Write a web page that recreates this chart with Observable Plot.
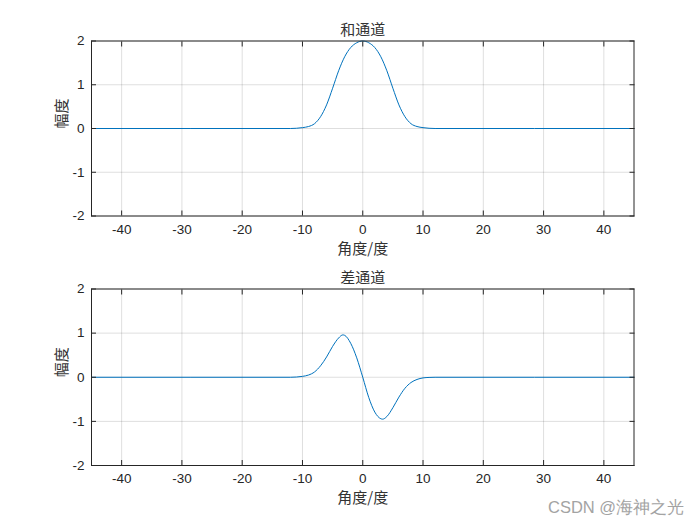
<!DOCTYPE html>
<html>
<head>
<meta charset="utf-8">
<script src="https://cdn.jsdelivr.net/npm/d3@7"></script>
<script src="https://cdn.jsdelivr.net/npm/@observablehq/plot@0.6"></script>
<style>
  html, body { margin: 0; padding: 0; background: #fff; }
  #wrap { position: relative; width: 700px; height: 525px; overflow: hidden; }
  #wrap svg { display: block; }
  #mark { position: absolute; left: 548px; top: 497px; font: 16.5px "Liberation Sans", Arial, sans-serif; color: #a3a3a3; white-space: nowrap; }
</style>
</head>
<body>
<div id="wrap"><div id="plots"></div><div id="mark">CSDN @海神之光</div></div>
<script>
const angleTicks = [-40, -30, -20, -10, 0, 10, 20, 30, 40];
const ampTicks = [-2, -1, 0, 1, 2];

const sumTitle = "和通道";
const diffTitle = "差通道";
const xLabel = "角度/度";
const yLabel = "幅度";

const sumAngle = [-45, -12, -11, -10, -9, -8, -7, -6, -5, -4, -3, -2, -1, 0, 1, 2, 3, 4, 5, 6, 7, 8, 9, 10, 11, 12, 45];
const sumAmp   = [0, 0, 0.005, 0.02, 0.045, 0.11, 0.27, 0.54, 0.92, 1.32, 1.64, 1.85, 1.96, 2.0, 1.96, 1.85, 1.64, 1.32, 0.92, 0.54, 0.27, 0.11, 0.045, 0.02, 0.005, 0, 0];

const diffAngle = [-45, -12, -11, -10, -9, -8, -7, -6, -5, -4, -3.3, -3, -2, -1, 0, 1, 2, 3, 3.3, 4, 5, 6, 7, 8, 9, 10, 11, 12, 45];
const diffAmp   = [0, 0, 0.005, 0.02, 0.05, 0.12, 0.26, 0.46, 0.70, 0.89, 0.96, 0.95, 0.77, 0.44, 0, -0.46, -0.79, -0.94, -0.95, -0.89, -0.69, -0.45, -0.25, -0.12, -0.05, -0.015, -0.004, 0, 0];

const ink = "#262626";
const numFont = '"Liberation Sans", Arial, sans-serif';
const cjkFont = '"Noto Sans CJK SC", sans-serif';

function panel(title, angles, amps, opts) {
  const data = angles.map((a, i) => ({a, v: amps[i]}));
  return Plot.plot({
    width: 700,
    height: opts.height,
    marginTop: opts.marginTop,
    marginBottom: opts.marginBottom,
    marginLeft: 91,
    marginRight: 66.5,
    style: {fontFamily: numFont, fontSize: "13px", color: ink, background: "#fff"},
    x: {domain: [-45, 45]},
    y: {domain: [-2, 2]},
    marks: [
      Plot.gridX(angleTicks, {stroke: "#000", strokeOpacity: 0.13}),
      Plot.gridY(ampTicks, {stroke: "#000", strokeOpacity: 0.13}),
      Plot.line(data, {x: "a", y: "v", stroke: "#0072BD", strokeWidth: 1, curve: "monotone-x"}),
      Plot.axisX(angleTicks, {anchor: "bottom", tickSize: 0, tickPadding: 8, fontSize: 13.5, fill: ink, label: null, tickFormat: d => String(d)}),
      Plot.axisX(angleTicks, {anchor: "bottom", tickSize: -5, stroke: ink, tickFormat: () => "", label: null}),
      Plot.axisX(angleTicks, {anchor: "top", tickSize: -5, stroke: ink, tickFormat: () => "", label: null}),
      Plot.axisY(ampTicks, {anchor: "left", tickSize: 0, tickPadding: 7, fontSize: 13.5, fill: ink, label: null, tickFormat: d => String(d)}),
      Plot.axisY(ampTicks, {anchor: "left", tickSize: -5, stroke: ink, tickFormat: () => "", label: null}),
      Plot.axisY(ampTicks, {anchor: "right", tickSize: -5, stroke: ink, tickFormat: () => "", label: null}),
      Plot.frame({stroke: ink, strokeWidth: 1}),
      Plot.text([title], {frameAnchor: "top", dy: -6, lineAnchor: "bottom", text: d => d, fontFamily: cjkFont, fontSize: 15, fill: "#333"}),
      Plot.text([xLabel], {frameAnchor: "bottom", dy: 27, lineAnchor: "top", text: d => d, fontFamily: cjkFont, fontSize: 15, fill: "#333"}),
      Plot.text([yLabel], {frameAnchor: "left", dx: -29, rotate: -90, text: d => d, fontFamily: cjkFont, fontSize: 15, fill: "#333"})
    ]
  });
}

const host = document.getElementById("plots");
host.appendChild(panel(sumTitle, sumAngle, sumAmp, {height: 262, marginTop: 40.5, marginBottom: 46.5}));
host.appendChild(panel(diffTitle, diffAngle, diffAmp, {height: 263, marginTop: 26.5, marginBottom: 60}));
</script>
</body>
</html>
